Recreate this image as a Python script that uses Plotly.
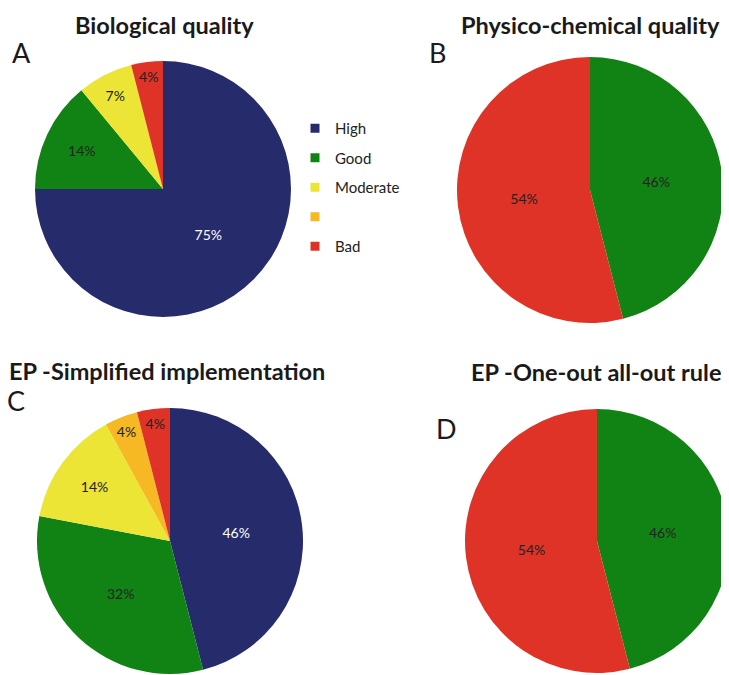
import plotly.graph_objects as go

# ---- data ----
categories = ["High", "Good", "Moderate", " ", "Bad"]
category_colors = ["#262b6c", "#118314", "#ece535", "#f6b924", "#df3327"]
label_colors = ["#ffffff", "#222222", "#222222", "#222222", "#222222"]

bio_values = [75, 14, 7, 0, 4]
physchem_values = [0, 46, 0, 0, 54]
ep_simplified_values = [46, 32, 14, 4, 4]
ep_ooao_values = [0, 46, 0, 0, 54]

panel_titles = ["Biological quality", "Physico-chemical quality",
                "EP -Simplified implementation", "EP -One-out all-out rule"]
panel_letters = ["A", "B", "C", "D"]

W, H = 729, 675
OFF = 8  # page body margin
FONT = "Lato"


def dom(cx, cy, r):
    cx -= OFF; cy -= OFF
    x0, x1 = max(0, (cx - r) / W), min(1, (cx + r) / W)
    y0, y1 = max(0, 1 - (cy + r) / H), min(1, 1 - (cy - r) / H)
    return dict(x=[x0, x1], y=[y0, y1])


def pie(values, domain):
    labs, vals, cols, tcols = [], [], [], []
    for l, v, c, tc in zip(categories, values, category_colors, label_colors):
        if v > 0:
            labs.append(l); vals.append(v); cols.append(c); tcols.append(tc)
    return go.Pie(
        labels=labs, values=vals, sort=False, direction="clockwise", rotation=0,
        marker=dict(colors=cols, line=dict(width=0)),
        texttemplate="%{percent:.0%}", textposition="inside",
        insidetextorientation="horizontal",
        textfont=dict(family=FONT, size=14, color=tcols),
        domain=domain, showlegend=False, hoverinfo="label+percent",
    )


fig = go.Figure()
fig.add_trace(pie(bio_values, dom(163, 189, 128)))
fig.add_trace(pie(physchem_values, dom(590, 190, 133)))
fig.add_trace(pie(ep_simplified_values, dom(170, 541, 133)))
fig.add_trace(pie(ep_ooao_values, dom(597, 541, 132)))

# legend entries
for name, col in zip(categories, category_colors):
    fig.add_trace(go.Scatter(
        x=[None], y=[None], mode="markers", name=name, legendgroup=name,
        marker=dict(symbol="square", size=9, color=col),
    ))

title_pos = [(164, 25), (590, 25), (167, 371), (596, 372)]
letter_pos = [(21, 52), (437, 52), (16, 400), (446, 428)]
annotations = []
for t, (x, y) in zip(panel_titles, title_pos):
    annotations.append(dict(text=f"<b>{t}</b>", x=(x - OFF) / W, y=1 - (y - OFF) / H,
                            xref="paper", yref="paper",
                            xanchor="center", yanchor="middle", showarrow=False,
                            font=dict(family=FONT, size=23.5, color="#1a1a1a")))
for t, (x, y) in zip(panel_letters, letter_pos):
    annotations.append(dict(text=t, x=(x - OFF) / W, y=1 - (y - OFF) / H,
                            xref="paper", yref="paper",
                            xanchor="center", yanchor="middle", showarrow=False,
                            font=dict(family=FONT, size=27, color="#1a1a1a")))

fig.update_layout(
    width=W, height=H, margin=dict(l=0, r=0, t=0, b=0),
    paper_bgcolor="white", plot_bgcolor="white",
    xaxis=dict(visible=False), yaxis=dict(visible=False),
    annotations=annotations,
    legend=dict(x=(315 - OFF - 20) / W, y=1 - (112 - OFF) / H, xanchor="left", yanchor="top",
                font=dict(family=FONT, size=15, color="#222222"),
                tracegroupgap=7, bgcolor="rgba(0,0,0,0)"),
)

fig.write_html("out.html")
